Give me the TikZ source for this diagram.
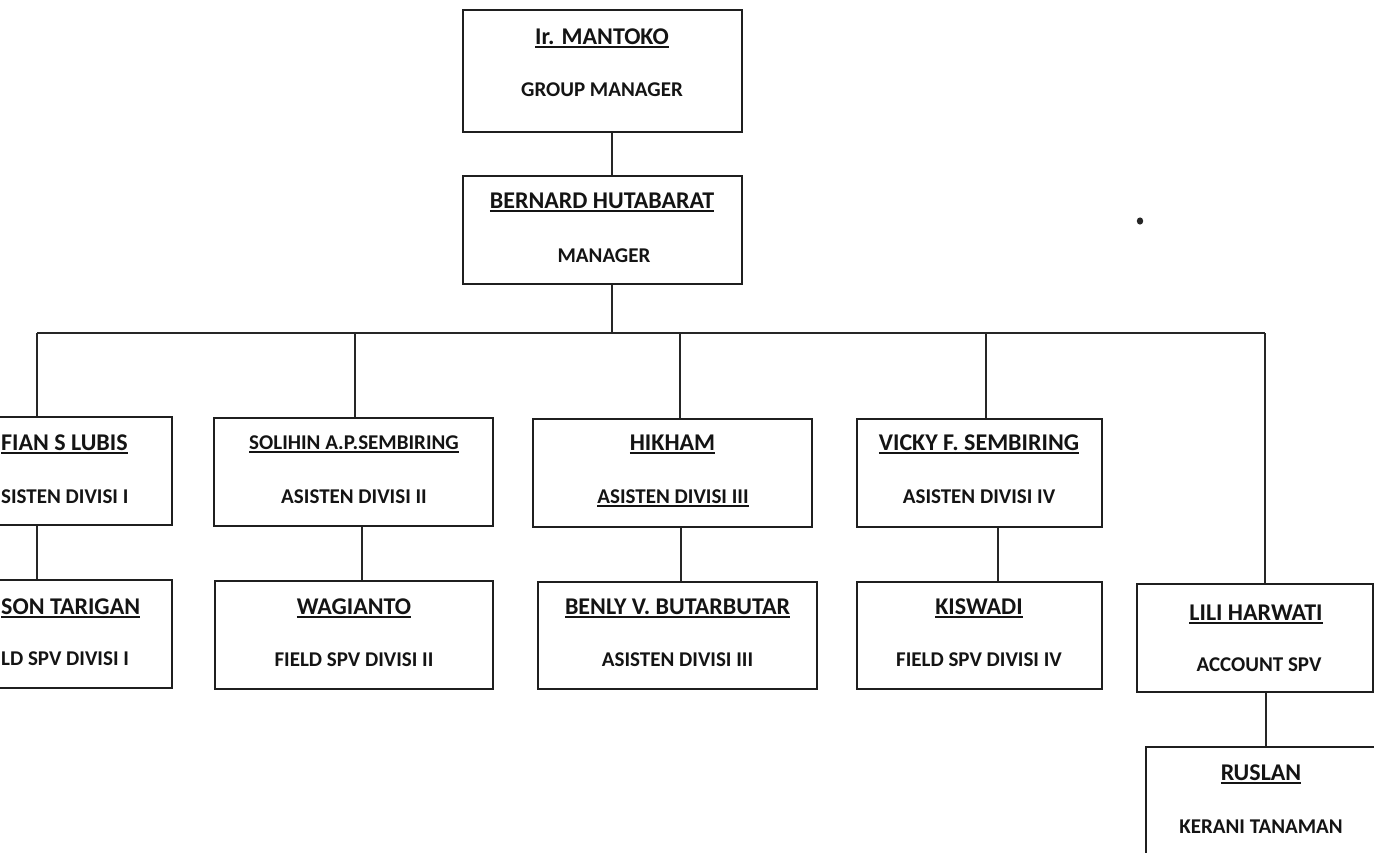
\documentclass[tikz,border=0pt]{standalone}
\usepackage{fontspec}
\setmainfont{Carlito}
\usetikzlibrary{fit}
\newcommand{\ulx}[1]{\setbox0=\hbox{#1}\rlap{\rule[-3.6pt]{\wd0}{1.8pt}}\box0}
\begin{document}
\begin{tikzpicture}[x=1pt,y=-1pt,
  box/.style={draw=black!88, line width=2pt, inner sep=0pt},
  link/.style={draw=black!85, line width=1.6pt},
  nm/.style={anchor=base, inner sep=0pt, text=black!92, font=\bfseries\fontsize{24}{28}\selectfont},
  nmsmall/.style={nm, font=\bfseries\fontsize{21}{25}\selectfont},
  tt/.style={anchor=base, inner sep=0pt, text=black!92, font=\bfseries\fontsize{21}{25}\selectfont}]
\useasboundingbox (0,0) rectangle (1374,852);
\clip (0,0) rectangle (1374,852);
\fill[white] (0,0) rectangle (1374,852);

% boxes
\node[box, fit={(463,10) (742,132)}] (top) {};
\node[box, fit={(463,176) (742,284)}] (mgr) {};
\node[box, fit={(-60,417) (172,525)}] (A1) {};
\node[box, fit={(-60,580) (172,688)}] (A2) {};
\node[box, fit={(214,418) (493,526)}] (B1) {};
\node[box, fit={(215,581) (493,689)}] (B2) {};
\node[box, fit={(533,419) (812,527)}] (C1) {};
\node[box, fit={(538,582) (817,689)}] (C2) {};
\node[box, fit={(857,419) (1102,527)}] (D1) {};
\node[box, fit={(857,582) (1102,689)}] (D2) {};
\node[box, fit={(1137,584) (1373,692)}] (E1) {};
\node[box, fit={(1146,747) (1386,880)}] (E2) {};

% texts
\node[nm] (topn) at (602,44.6) {\ulx{Ir. MANTOKO}};
\node[tt] (topt) at (602,96.6) {GROUP MANAGER};
\node[nm] (mgrn) at (602,208.6) {\ulx{BERNARD HUTABARAT}};
\node[tt] (mgrt) at (604,262.6) {MANAGER};

\node[nm, anchor=base west] (A1n) at (1,450.6) {\ulx{FIAN S LUBIS}};
\node[tt, anchor=base west] (A1t) at (1,503.6) {SISTEN DIVISI I};
\node[nm, anchor=base west] (A2n) at (1,614.6) {\ulx{SON TARIGAN}};
\node[tt, anchor=base west] (A2t) at (1,665.6) {LD SPV DIVISI I};

\node[nmsmall] (B1n) at (354,449.6) {\ulx{SOLIHIN A.P.SEMBIRING}};
\node[tt] (B1t) at (354,503.6) {ASISTEN DIVISI II};
\node[nm] (B2n) at (354,614.6) {\ulx{WAGIANTO}};
\node[tt] (B2t) at (354,666.6) {FIELD SPV DIVISI II};

\node[nm] (C1n) at (672.5,450.6) {\ulx{HIKHAM}};
\node[tt] (C1t) at (673,503.6) {\ulx{ASISTEN DIVISI III}};
\node[nm] (C2n) at (677.5,614.6) {\ulx{BENLY V. BUTARBUTAR}};
\node[tt] (C2t) at (677.5,666.6) {ASISTEN DIVISI III};

\node[nm] (D1n) at (979,450.6) {\ulx{VICKY F. SEMBIRING}};
\node[tt] (D1t) at (979,503.6) {ASISTEN DIVISI IV};
\node[nm] (D2n) at (979,614.6) {\ulx{KISWADI}};
\node[tt] (D2t) at (979,666.6) {FIELD SPV DIVISI IV};

\node[nm] (E1n) at (1256,620.6) {\ulx{LILI HARWATI}};
\node[tt] (E1t) at (1259,671.6) {ACCOUNT SPV};
\node[nm] (E2n) at (1261,780.6) {\ulx{RUSLAN}};
\node[tt] (E2t) at (1261,833.6) {KERANI TANAMAN};

% junctions
\coordinate (j0) at (612,333);
\coordinate (jA) at (37,333);
\coordinate (jB) at (355,333);
\coordinate (jC) at (680,333);
\coordinate (jD) at (986,333);
\coordinate (jE) at (1265,333);
\coordinate (kB) at (362,0);
\coordinate (kC) at (681,0);
\coordinate (kD) at (998,0);
\coordinate (kE) at (1266,0);

% connectors
\draw[link] (top.south -| j0) -- (mgr.north -| j0);
\draw[link] (mgr.south -| j0) -- (j0);
\draw[link] (jA) -- (jE);
\draw[link] (jA) -- (jA |- A1.north);
\draw[link] (jB) -- (jB |- B1.north);
\draw[link] (jC) -- (jC |- C1.north);
\draw[link] (jD) -- (jD |- D1.north);
\draw[link] (jE) -- (jE |- E1.north);
\draw[link] (A1.south -| jA) -- (A2.north -| jA);
\draw[link] (B1.south -| kB) -- (B2.north -| kB);
\draw[link] (C1.south -| kC) -- (C2.north -| kC);
\draw[link] (D1.south -| kD) -- (D2.north -| kD);
\draw[link] (E1.south -| kE) -- (E2.north -| kE);

% scan speck
\fill[black!85] (1140,221) ellipse (3.2 and 3.6);
\end{tikzpicture}
\end{document}
